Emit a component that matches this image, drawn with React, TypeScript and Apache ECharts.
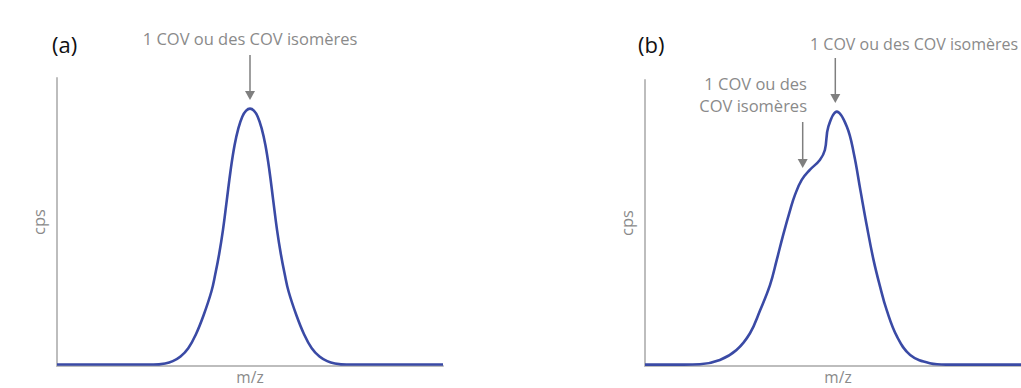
import React, { useEffect, useRef } from "react";
import * as echarts from "echarts";

// Panel (a): single peak — m/z (relative units 0..100) vs cps (relative 0..100)
const mzA = [0, 20, 25, 28, 30, 32, 34, 36, 38, 40, 41, 42, 43, 44, 45, 46, 47, 48, 49, 50, 51, 52, 53, 54, 55, 56, 57, 58, 59, 60, 62, 64, 66, 68, 70, 72, 75, 80, 100];
const cpsA = [0, 0, 0, 0.4, 1.2, 2.8, 5.7, 10.6, 17.3, 25.5, 31.5, 38.5, 47, 57.5, 68, 76.5, 82.5, 86.5, 88.6, 89.3, 88.6, 86.5, 82.5, 76.5, 68, 57.5, 47, 38.5, 31.5, 25.5, 17.3, 10.6, 5.7, 2.8, 1.2, 0.4, 0, 0, 0];

// Panel (b): peak with a shoulder
const mzB = [0, 10, 14.2, 19.4, 23.7, 27.2, 29.8, 32.4, 34.1, 35.8, 37.6, 38.9, 40.6, 42.7, 45.3, 46.6, 47.5, 49.7, 52.3, 54.1, 55.8, 57.5, 59.2, 60.9, 62.6, 65.3, 68.7, 73.8, 78, 100];
const cpsB = [0, 0, 0.1, 1.6, 5.1, 11.0, 19.0, 28.0, 36.6, 45.6, 54.3, 59.8, 64.9, 68.4, 71.9, 75.4, 83.6, 88.9, 83.6, 74.2, 61.3, 48.5, 36.8, 27.4, 19.2, 9.8, 3.4, 0.5, 0, 0];

const panelLabels = ["(a)", "(b)"];
const peakNote = "1 COV ou des COV isomères";
const shoulderNote = ["1 COV ou des", "COV isomères"];
const xName = "m/z";
const yName = "cps";

const FONT = "'Open Sans', 'Noto Sans', sans-serif";
const GRAY_TEXT = "#8a8a8a";
const ARROW = "#7f7f7f";
const AXIS = "#bdbdbd";
const CURVE = "#3a4aa5";

function arrow(x: number, y0: number, tip: number) {
  return [
    { type: "line", shape: { x1: x, y1: y0, x2: x, y2: tip - 8 }, style: { stroke: ARROW, lineWidth: 1.5 } },
    {
      type: "polygon",
      shape: { points: [[x - 5, tip - 9], [x + 5, tip - 9], [x, tip]] },
      style: { fill: ARROW },
    },
  ];
}

export default function App() {
  const ref = useRef<HTMLDivElement>(null);
  useEffect(() => {
    if (!ref.current) return;
    const chart = echarts.init(ref.current, undefined, { renderer: "svg" });
    const zip = (xs: number[], ys: number[]) => xs.map((x, i) => [x, ys[i]]);
    const mkX = (gi: number) => ({
      type: "value",
      gridIndex: gi,
      min: 0,
      max: 100,
      axisLine: { show: true, onZero: false, lineStyle: { color: AXIS, width: 2 } },
      axisTick: { show: false },
      axisLabel: { show: false },
      splitLine: { show: false },
      name: xName,
      nameLocation: "middle",
      nameGap: 3,
      nameTextStyle: { color: GRAY_TEXT, fontSize: 15.5, fontFamily: FONT, lineHeight: 15 },
    });
    const mkY = (gi: number) => ({
      type: "value",
      gridIndex: gi,
      min: -0.5,
      max: 100,
      axisLine: { show: true, onZero: false, lineStyle: { color: AXIS, width: 2 } },
      axisTick: { show: false },
      axisLabel: { show: false },
      splitLine: { show: false },
      name: yName,
      nameLocation: "middle",
      nameRotate: 90,
      nameGap: 10,
      nameTextStyle: { color: GRAY_TEXT, fontSize: 16.5, fontFamily: FONT },
    });
    const mkSeries = (gi: number, data: number[][]) => ({
      type: "line",
      xAxisIndex: gi,
      yAxisIndex: gi,
      data,
      smooth: 0.4,
      showSymbol: false,
      symbol: "none",
      lineStyle: { color: CURVE, width: 2.6 },
      clip: false,
    });
    const txt = (x: number, y: number, text: string, align: string, size: number, color: string) => ({
      type: "text",
      x,
      y,
      style: { text, fill: color, fontSize: size, fontFamily: FONT, align, verticalAlign: "middle" },
    });
    chart.setOption({
      animation: false,
      backgroundColor: "#ffffff",
      grid: [
        { left: 57, top: 78, width: 386, height: 288, containLabel: false, outerBoundsMode: "none" },
        { left: 645, top: 80, width: 386, height: 286, containLabel: false, outerBoundsMode: "none" },
      ],
      xAxis: [mkX(0), mkX(1)],
      yAxis: [mkY(0), mkY(1)],
      series: [mkSeries(0, zip(mzA, cpsA)), mkSeries(1, zip(mzB, cpsB))],
      graphic: [
        txt(52, 44, panelLabels[0], "left", 22, "#111"),
        txt(638, 44, panelLabels[1], "left", 22, "#111"),
        txt(250, 38, peakNote, "center", 16.5, GRAY_TEXT),
        txt(810, 43.5, peakNote, "left", 16, GRAY_TEXT),
        txt(807, 83, shoulderNote[0], "right", 16.5, GRAY_TEXT),
        txt(807, 105, shoulderNote[1], "right", 16.5, GRAY_TEXT),
        ...arrow(250, 55, 100),
        ...arrow(835.3, 58, 103),
        ...arrow(802.7, 122, 168),
      ],
    });
    return () => chart.dispose();
  }, []);
  return (
    <div
      ref={ref}
      style={{ position: "absolute", left: 0, top: 0, width: 1021, height: 388, background: "#fff" }}
    />
  );
}
